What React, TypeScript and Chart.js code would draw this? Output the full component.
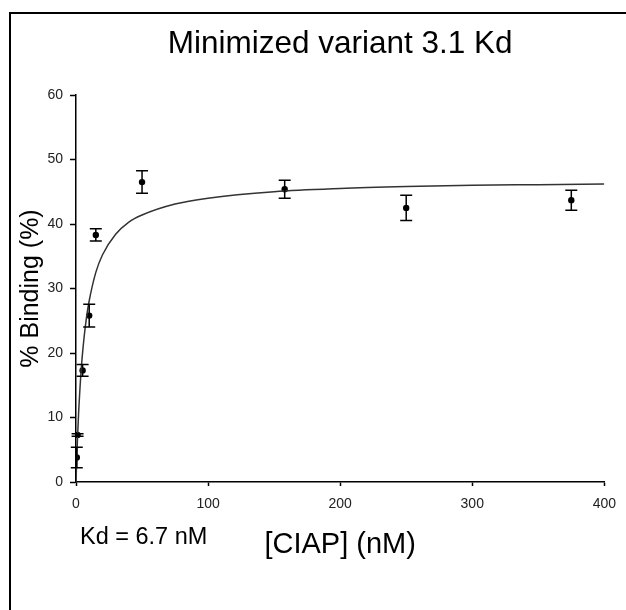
import React, { useEffect, useRef } from "react";
import { Chart, registerables } from "chart.js";

Chart.register(...registerables);

// ---- Data ----
const titleText = "Minimized variant 3.1 Kd";
const xAxisLabel = "[CIAP] (nM)";
const yAxisLabel = "% Binding (%)";
const kdLabel = "Kd = 6.7 nM";

// measured points (concentration nM, % binding, error)
const concentrations = [0.6, 1.2, 5, 10, 15, 50, 158, 250, 375];
const binding = [3.8, 7.3, 17.3, 25.8, 38.3, 46.5, 45.4, 42.5, 43.7];
const bindingErr = [1.6, 0.2, 0.9, 1.75, 0.95, 1.75, 1.4, 1.95, 1.55];

// fitted curve
const fitX = [0, 1, 2, 4, 6, 8, 10, 15, 20, 30, 40, 50, 75, 100, 150, 200, 250, 300, 350, 400];
const fitY = [0, 6.1, 10.8, 17.6, 22.2, 25.6, 28.1, 32.5, 35.2, 38.4, 40.3, 41.4, 43.1, 44.0, 45.0, 45.5, 45.8, 46.0, 46.1, 46.2];

// axis ranges / ticks
const xMin = 0, xMax = 400, xStep = 100;
const yMin = 0, yMax = 60, yStep = 10;

const FONT = "'Liberation Sans', Arial, sans-serif";

const errorBarPlugin = {
  id: "errorBars",
  afterDatasetsDraw(chart: any) {
    const { ctx, scales } = chart;
    const xs = scales.x, ys = scales.y;
    ctx.save();
    ctx.strokeStyle = "#000";
    ctx.lineWidth = 1.5;
    for (let i = 0; i < concentrations.length; i++) {
      const px = xs.getPixelForValue(concentrations[i]);
      const top = ys.getPixelForValue(binding[i] + bindingErr[i]);
      const bot = ys.getPixelForValue(binding[i] - bindingErr[i]);
      ctx.beginPath();
      ctx.moveTo(px, top);
      ctx.lineTo(px, bot);
      ctx.moveTo(px - 6, top);
      ctx.lineTo(px + 6, top);
      ctx.moveTo(px - 6, bot);
      ctx.lineTo(px + 6, bot);
      ctx.stroke();
    }
    ctx.restore();
  },
};

const decorPlugin = {
  id: "decor",
  beforeDraw(chart: any) {
    const { ctx, width, height } = chart;
    ctx.save();
    ctx.fillStyle = "#fff";
    ctx.fillRect(0, 0, width, height);
    ctx.fillStyle = "#000";
    ctx.fillRect(9, 12, 2, height - 12);
    ctx.fillRect(9, 12, width - 9, 2);
    ctx.restore();
  },
  afterDraw(chart: any) {
    const { ctx, chartArea } = chart;
    ctx.save();
    ctx.fillStyle = "#000";
    ctx.font = `23.5px ${FONT}`;
    ctx.textAlign = "left";
    ctx.textBaseline = "alphabetic";
    ctx.fillText(kdLabel, chartArea.left + 4, chartArea.bottom + 62);
    ctx.restore();
  },
};

export default function App() {
  const ref = useRef<HTMLCanvasElement | null>(null);

  useEffect(() => {
    if (!ref.current) return;
    const chart = new Chart(ref.current, {
      type: "scatter",
      data: {
        datasets: [
          {
            label: "fit",
            data: fitX.map((x, i) => ({ x, y: fitY[i] })),
            showLine: true,
            borderColor: "#333",
            borderWidth: 1.5,
            pointRadius: 0,
            cubicInterpolationMode: "monotone",
            fill: false,
          },
          {
            label: "data",
            data: concentrations.map((x, i) => ({ x, y: binding[i] })),
            showLine: false,
            pointRadius: 3.2,
            pointBackgroundColor: "#000",
            pointBorderColor: "#000",
            pointBorderWidth: 0,
          },
        ],
      },
      options: {
        responsive: false,
        animation: false,
        layout: { padding: { left: 0, right: 18, top: 0, bottom: 0 } },
        plugins: {
          legend: { display: false },
          tooltip: { enabled: false },
          title: {
            display: true,
            text: titleText,
            fullSize: false,
            color: "#000",
            font: { family: FONT, size: 31.5, weight: "normal" },
            padding: { top: 25.5, bottom: 31.7 },
          },
        },
        scales: {
          x: {
            type: "linear",
            min: xMin,
            max: xMax,
            afterFit: (s: any) => { s.height = 128; },
            ticks: {
              stepSize: xStep,
              color: "#222",
              font: { family: FONT, size: 14 },
              padding: 10,
              maxRotation: 0,
            },
            grid: { drawOnChartArea: false, drawTicks: true, tickLength: 4, color: "#000", tickWidth: 1.5 },
            border: { display: true, color: "#000", width: 1.5 },
            title: {
              display: true,
              text: xAxisLabel,
              color: "#000",
              font: { family: FONT, size: 29 },
              padding: { top: 0, bottom: 48 },
            },
          },
          y: {
            type: "linear",
            min: yMin,
            max: yMax,
            afterFit: (s: any) => { s.width = 76; },
            ticks: {
              stepSize: yStep,
              color: "#222",
              font: { family: FONT, size: 14 },
              padding: 7,
            },
            grid: { drawOnChartArea: false, drawTicks: true, tickLength: 6, color: "#000", tickWidth: 1.5 },
            border: { display: true, color: "#000", width: 1.5 },
            title: {
              display: true,
              text: yAxisLabel,
              color: "#000",
              font: { family: FONT, size: 25 },
              padding: { top: 16.5, bottom: 0 },
            },
          },
        },
      },
      plugins: [errorBarPlugin, decorPlugin],
    } as any);
    return () => chart.destroy();
  }, []);

  return (
    <div style={{ position: "absolute", left: 0, top: 0, width: 626, height: 610 }}>
      <canvas ref={ref} width={626} height={610} style={{ display: "block" }} />
    </div>
  );
}
